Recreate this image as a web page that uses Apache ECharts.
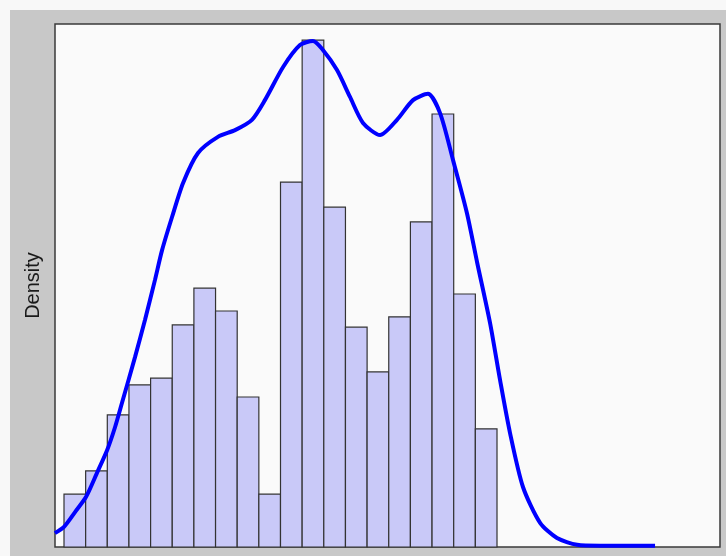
<!DOCTYPE html>
<html>
<head>
<meta charset="utf-8">
<title>Density</title>
<script src="https://cdn.jsdelivr.net/npm/echarts@6/dist/echarts.min.js"></script>
<style>
  html, body { margin: 0; padding: 0; background: #f8f8f8; }
  #chart { width: 726px; height: 556px; }
</style>
</head>
<body>
<div id="chart"></div>
<script>
// Histogram bins (left edges; every bin is one unit wide)
var binEdges = [0, 1, 2, 3, 4, 5, 6, 7, 8, 9, 10, 11, 12, 13, 14, 15, 16, 17, 18, 19, 20];
// Density of each bin
var binDensity = [0.0118, 0.0170, 0.0295, 0.0362, 0.0377, 0.0496, 0.0578, 0.0527, 0.0335, 0.0118,
                  0.0815, 0.1132, 0.0759, 0.0491, 0.0391, 0.0514, 0.0726, 0.0967, 0.0565, 0.0264];

// Kernel density estimate, sampled along x
var kdeX = [-0.42, 0, 0.51, 1.02, 1.52, 1.99, 2.36, 2.68, 3.28, 3.74, 4.20, 4.53, 4.99, 5.50, 6.19,
            7.11, 7.90, 8.68, 9.28, 10.12, 10.90, 11.50, 11.96, 12.61, 13.21, 13.81, 14.60, 15.38,
            16.12, 16.81, 17.37, 17.97, 18.61, 19.08, 19.68, 20.14, 20.60, 21.20, 21.99, 22.77,
            23.70, 24.76, 27.30];
var kdeY = [0.0031, 0.0045, 0.0078, 0.0112, 0.0165, 0.0216, 0.0268, 0.0322, 0.0424, 0.0507, 0.0596,
            0.0663, 0.0737, 0.0813, 0.0880, 0.0916, 0.0931, 0.0954, 0.0998, 0.1072, 0.1121, 0.1130,
            0.1110, 0.1065, 0.1005, 0.0947, 0.0920, 0.0954, 0.0998, 0.1012, 0.0969, 0.0864, 0.0746,
            0.0636, 0.0500, 0.0373, 0.0255, 0.0134, 0.0054, 0.0020, 0.0005, 0.0003, 0.0003];

var histData = binDensity.map(function (d, i) {
  return [binEdges[i], binEdges[i + 1], d];
});
var kdeData = kdeX.map(function (x, i) { return [x, kdeY[i]]; });

var chart = echarts.init(document.getElementById('chart'), null, { renderer: 'canvas' });

chart.setOption({
  animation: false,
  backgroundColor: '#f8f8f8',
  graphic: [
    {
      type: 'rect',
      z: -10,
      silent: true,
      shape: { x: 10, y: 10, width: 716, height: 546 },
      style: { fill: '#c8c8c8' }
    }
  ],
  grid: {
    left: 55, top: 24, right: 6, bottom: 9,
    show: true,
    backgroundColor: '#fafafa',
    borderColor: '#3a3a3a',
    borderWidth: 1.5
  },
  xAxis: {
    type: 'value',
    min: -0.4157,
    max: 30.30,
    axisLine: { show: false },
    axisTick: { show: false },
    axisLabel: { show: false },
    splitLine: { show: false }
  },
  yAxis: {
    type: 'value',
    min: 0,
    max: 0.1168,
    name: 'Density',
    nameLocation: 'middle',
    nameGap: 12,
    nameRotate: 90,
    nameTextStyle: {
      fontFamily: 'Liberation Sans, Arial, sans-serif',
      fontSize: 20,
      color: '#1a1a1a'
    },
    axisLine: { show: false },
    axisTick: { show: false },
    axisLabel: { show: false },
    splitLine: { show: false }
  },
  series: [
    {
      type: 'custom',
      name: 'Histogram',
      data: histData,
      encode: { x: [0, 1], y: 2 },
      renderItem: function (params, api) {
        var p0 = api.coord([api.value(0), api.value(2)]);
        var p1 = api.coord([api.value(1), 0]);
        return {
          type: 'rect',
          shape: { x: p0[0], y: p0[1], width: p1[0] - p0[0], height: p1[1] - p0[1] },
          style: { fill: '#c9c9f8', stroke: '#333333', lineWidth: 1.2 }
        };
      },
      z: 2
    },
    {
      type: 'line',
      name: 'Density',
      data: kdeData,
      showSymbol: false,
      symbol: 'none',
      smooth: 0.25,
      clip: true,
      lineStyle: { color: '#0000ff', width: 4 },
      z: 3
    }
  ]
});
</script>
</body>
</html>
